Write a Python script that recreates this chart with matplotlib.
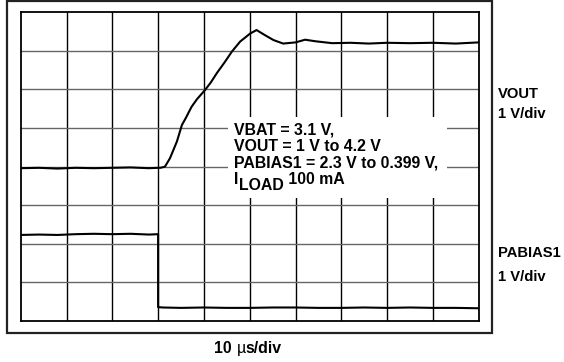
import matplotlib.pyplot as plt
from matplotlib.patches import Rectangle

plt.rcParams['font.family'] = ['Liberation Sans', 'DejaVu Sans']

# scope traces, in divisions (10 across, 8 up)
vout_t = [0, 0.4, 0.8, 1.2, 1.6, 2.0, 2.4, 2.8, 3.0, 3.05, 3.15, 3.26, 3.41, 3.52, 3.6,
          3.73, 3.85, 4.02, 4.15, 4.28, 4.45, 4.61, 4.79, 5.01, 5.15, 5.33, 5.52, 5.73,
          6.0, 6.21, 6.43, 6.8, 7.2, 7.6, 8.0, 8.5, 9.0, 9.5, 10.0]
vout_v = [3.96, 3.97, 3.95, 3.97, 3.96, 3.97, 3.98, 3.96, 3.97, 3.97, 4.0, 4.22, 4.65,
          5.08, 5.25, 5.55, 5.75, 5.98, 6.18, 6.42, 6.70, 6.98, 7.24, 7.45, 7.54, 7.41,
          7.28, 7.19, 7.22, 7.29, 7.25, 7.20, 7.21, 7.19, 7.21, 7.20, 7.21, 7.19, 7.22]
pabias_t = [0, 0.4, 0.8, 1.2, 1.6, 2.0, 2.4, 2.8, 3.0, 3.0, 3.1, 3.5, 4, 4.5, 5, 5.5,
            6, 6.5, 7, 7.5, 8, 8.5, 9, 9.5, 10]
pabias_v = [2.23, 2.24, 2.23, 2.25, 2.26, 2.25, 2.26, 2.24, 2.25, 0.36, 0.35, 0.34,
            0.35, 0.34, 0.34, 0.35, 0.35, 0.34, 0.34, 0.35, 0.34, 0.35, 0.34, 0.34, 0.33]

cond_lines = ['VBAT = 3.1 V,', 'VOUT = 1 V to 4.2 V', 'PABIAS1 = 2.3 V to 0.399 V,']

W, H = 564, 362
fig = plt.figure(figsize=(W / 100, H / 100), dpi=100)

# outer frame
fig.patches.append(Rectangle((7 / W, 1 - 333 / H), 485 / W, 332 / H, transform=fig.transFigure,
                             fill=False, lw=1.6, ec='#222222'))

ax = fig.add_axes([20.7 / W, 1 - 321 / H, 458 / W, 308.7 / H])
ax.set_xlim(0, 10)
ax.set_ylim(0, 8)
for i in range(1, 10):
    ax.axvline(i, color='black', lw=1.0, zorder=1)
for j in range(1, 8):
    ax.axhline(j, color='#666666', lw=1.0, zorder=1)
ax.set_xticks([])
ax.set_yticks([])
for s in ax.spines.values():
    s.set_linewidth(1.3)
    s.set_color('black')

# white panel under the test conditions
ax.add_patch(Rectangle((4.53, 3.19), 4.78, 2.09, fc='white', ec='none', zorder=2))

ax.plot(vout_t, vout_v, color='black', lw=1.5, zorder=3)
ax.plot(pabias_t, pabias_v, color='black', lw=1.5, zorder=3)

fs = 11.4
px = lambda x, y: fig.transFigure.inverted().transform(fig.dpi_scale_trans.transform((x / 100, (H - y) / 100)))

for k, line in enumerate(cond_lines):
    x, y = px(234, 134.5 + k * 16.5)
    fig.text(x, y, line, fontsize=fs, fontweight='bold', va='baseline')
x, y = px(234, 184)
t1 = fig.text(x, y, 'I', fontsize=fs, fontweight='bold', va='baseline')
t2 = ax.annotate('LOAD', xy=(1, 0), xycoords=t1, xytext=(0.3, -4.5), textcoords='offset points',
                 fontsize=fs, fontweight='bold', va='bottom')
ax.annotate(' 100 mA', xy=(1, 0), xycoords=t2, xytext=(0, 4.5), textcoords='offset points',
            fontsize=fs, fontweight='bold', va='bottom')

for label, yb in [('VOUT', 98), ('1 V/div', 117.5), ('PABIAS1', 257), ('1 V/div', 281)]:
    x, y = px(498, yb)
    fig.text(x, y, label, fontsize=10.6, fontweight='bold', va='baseline')

x, y = px(214.5, 352.7)
b1 = fig.text(x, y, '10 ', fontsize=fs, fontweight='bold', va='baseline')
b2 = ax.annotate('\u00b5', xy=(1, 0), xycoords=b1, fontsize=fs, va='bottom')
ax.annotate('s/div', xy=(1, 0), xycoords=b2, fontsize=fs, fontweight='bold', va='bottom')

fig.savefig('out.png', dpi=100)
